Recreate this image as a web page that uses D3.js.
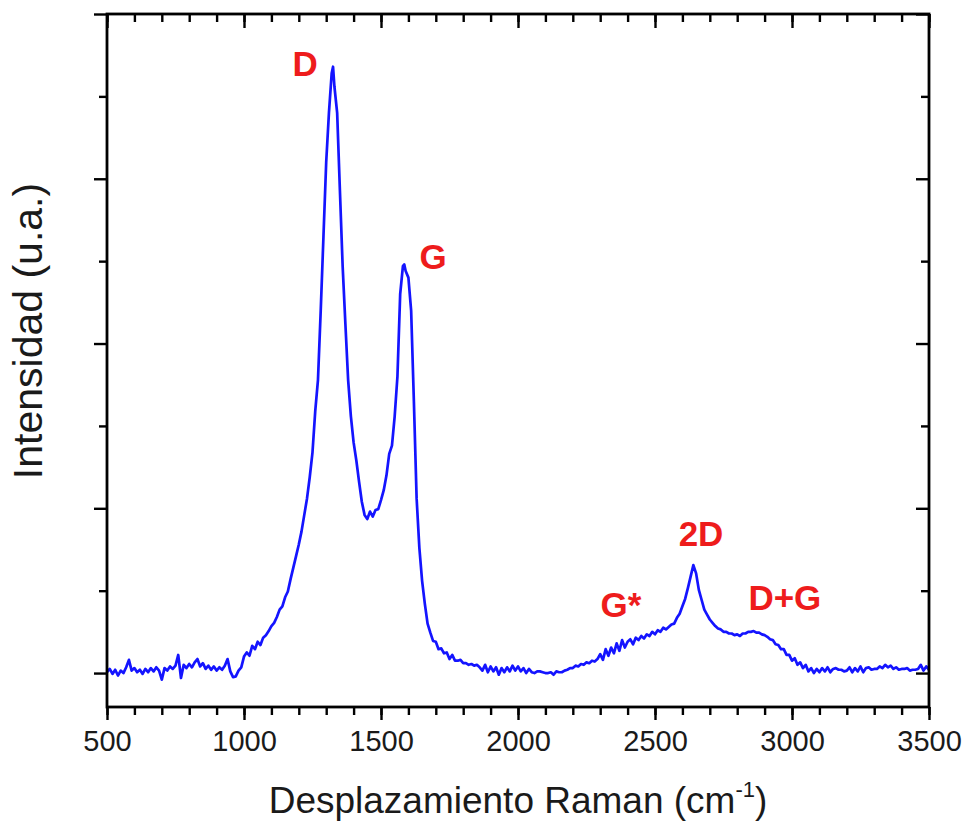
<!DOCTYPE html>
<html>
<head>
<meta charset="utf-8">
<script src="https://cdn.jsdelivr.net/npm/d3@7"></script>
<style>
  body { margin: 0; background: #fff; }
  text { font-family: "Liberation Sans", Arial, sans-serif; }
</style>
</head>
<body>
<svg width="967" height="825"></svg>
<script>
// Raman shift (cm-1) and intensity (a.u.)
const ramanShift = [
  500,510,520,530,540,550,560,570,580,590,600,610,620,630,640,650,660,670,680,690,
  700,710,720,730,740,750,760,770,780,790,800,810,820,830,840,850,860,870,880,890,
  900,910,920,930,940,950,960,970,980,990,1000,1010,1020,1030,1040,1050,1060,1070,1080,1090,
  1100,1110,1120,1130,1140,1150,1160,1170,1180,1190,1200,1210,1220,1230,1240,1250,1260,1270,1280,1290,
  1300,1310,1320,1325,1330,1340,1350,1360,1370,1380,1390,1400,1410,1420,1430,1440,1450,1460,1470,1480,
  1490,1500,1510,1520,1530,1540,1550,1560,1570,1580,1585,1590,1600,1610,1620,1630,1640,1650,1660,1670,
  1680,1690,1700,1710,1720,1730,1740,1750,1760,1770,1780,1790,1800,1810,1820,1830,1840,1850,1860,1870,
  1880,1890,1900,1910,1920,1930,1940,1950,1960,1970,1980,1990,2000,2010,2020,2030,2040,2050,2060,2070,
  2080,2090,2100,2110,2120,2130,2140,2150,2160,2170,2180,2190,2200,2210,2220,2230,2240,2250,2260,2270,
  2280,2290,2300,2310,2320,2330,2340,2350,2360,2370,2380,2390,2400,2410,2420,2430,2440,2450,2460,2470,
  2480,2490,2500,2510,2520,2530,2540,2550,2560,2570,2580,2590,2600,2610,2620,2630,2640,2650,2660,2670,
  2680,2690,2700,2710,2720,2730,2740,2750,2760,2770,2780,2790,2800,2810,2820,2830,2840,2850,2860,2870,
  2880,2890,2900,2910,2920,2930,2940,2950,2960,2970,2980,2990,3000,3010,3020,3030,3040,3050,3060,3070,
  3080,3090,3100,3110,3120,3130,3140,3150,3160,3170,3180,3190,3200,3210,3220,3230,3240,3250,3260,3270,
  3280,3290,3300,3310,3320,3330,3340,3350,3360,3370,3380,3390,3400,3410,3420,3430,3440,3450,3460,3470,
  3480,3490,3500
];
const intensity = [
  5,25,-5,20,-15,15,0,35,80,15,30,5,20,-5,25,5,30,10,35,15,
  -40,30,15,40,25,45,110,-30,50,30,55,35,65,85,40,60,25,45,20,40,
  15,35,20,45,85,10,-25,-20,15,35,100,125,105,165,145,190,170,215,230,255,
  285,305,340,385,405,460,495,570,640,710,780,860,960,1060,1190,1340,1590,1780,2200,2650,
  3100,3400,3640,3680,3560,3400,2930,2470,2120,1780,1560,1400,1290,1160,1040,960,935,980,950,990,
  995,1050,1110,1200,1330,1380,1560,1800,2300,2470,2480,2440,2400,2200,1650,1060,760,560,420,300,
  245,195,190,145,150,120,125,85,110,75,75,80,60,60,50,55,45,50,35,15,
  50,5,40,10,35,-10,30,5,35,10,45,15,40,10,30,0,25,5,0,10,
  10,5,0,0,5,-10,10,5,5,15,20,30,30,45,40,55,50,65,60,75,
  70,85,115,80,145,105,155,120,180,135,200,155,190,205,175,215,200,225,210,235,
  225,250,235,260,250,275,265,280,295,300,335,360,405,450,515,585,655,605,505,445,
  385,355,325,305,285,270,265,250,250,240,240,230,235,225,240,240,250,250,255,245,
  245,235,230,220,205,200,175,170,145,145,110,110,75,90,50,65,30,50,10,30,
  0,25,5,30,10,35,5,25,30,20,20,10,15,35,5,30,10,40,5,30,
  35,20,25,25,40,30,50,35,45,25,35,20,25,25,30,15,20,20,25,50,
  15,40,20
];
const xTicks = [500, 1000, 1500, 2000, 2500, 3000, 3500];
const xMinor = d3.range(500, 3501, 100);
const yTicks = [0, 1000, 2000, 3000, 4000];
const yMinor = [500, 1500, 2500, 3500];
const peakNames = ['D', 'G', 'G*', '2D', 'D+G'];
const peakShift = [1223, 1690, 2376, 2668, 2974];
const peakLabelLevel = [3624, 2454, 339, 770, 382];

const spectrum = ramanShift.map((s, i) => ({ s: s, v: intensity[i] }));

const svg = d3.select('svg');
const mLeft = 107, mRight = 929, mTop = 14, mBottom = 707;

const x = d3.scaleLinear().domain([500, 3500]).range([mLeft, mRight]);
const y = d3.scaleLinear().domain([-206, 4000]).range([mBottom, mTop]);

// minor ticks first, majors on top
const axisStyle = g => {
  g.select('.domain').remove();
  g.selectAll('line').attr('stroke', '#000').attr('stroke-width', 2.4);
  g.selectAll('text').attr('fill', '#1a1a1a').attr('font-size', 29);
};

svg.append('g')
  .attr('transform', `translate(0,${mBottom})`)
  .call(d3.axisBottom(x).tickValues(xMinor).tickSize(8).tickFormat(''))
  .call(axisStyle);
svg.append('g')
  .attr('transform', `translate(0,${mBottom})`)
  .call(d3.axisBottom(x).tickValues(xTicks).tickSize(13).tickPadding(10).tickFormat(d3.format('d')))
  .call(axisStyle);
svg.append('g')
  .attr('transform', `translate(0,${mTop})`)
  .call(d3.axisBottom(x).tickValues(xMinor).tickSize(8).tickFormat(''))
  .call(axisStyle);
svg.append('g')
  .attr('transform', `translate(0,${mTop})`)
  .call(d3.axisBottom(x).tickValues(xTicks).tickSize(14).tickFormat(''))
  .call(axisStyle);

svg.append('g')
  .attr('transform', `translate(${mLeft},0)`)
  .call(d3.axisLeft(y).tickValues(yMinor).tickSize(8).tickFormat(''))
  .call(axisStyle);
svg.append('g')
  .attr('transform', `translate(${mLeft},0)`)
  .call(d3.axisLeft(y).tickValues(yTicks).tickSize(13).tickFormat(''))
  .call(axisStyle);
svg.append('g')
  .attr('transform', `translate(${mRight},0)`)
  .call(d3.axisLeft(y).tickValues(yMinor).tickSize(8).tickFormat(''))
  .call(axisStyle);
svg.append('g')
  .attr('transform', `translate(${mRight},0)`)
  .call(d3.axisLeft(y).tickValues(yTicks).tickSize(13).tickFormat(''))
  .call(axisStyle);

svg.append('defs').append('clipPath').attr('id', 'plot')
  .append('rect').attr('x', mLeft).attr('y', mTop)
  .attr('width', mRight - mLeft).attr('height', mBottom - mTop);

svg.append('path')
  .datum(spectrum)
  .attr('clip-path', 'url(#plot)')
  .attr('fill', 'none')
  .attr('stroke', '#1414ff')
  .attr('stroke-width', 2.7)
  .attr('stroke-linejoin', 'round')
  .attr('d', d3.line().x(d => x(d.s)).y(d => y(d.v)));

// frame
svg.append('rect')
  .attr('x', mLeft).attr('y', mTop)
  .attr('width', mRight - mLeft).attr('height', mBottom - mTop)
  .attr('fill', 'none').attr('stroke', '#000').attr('stroke-width', 2.8);

svg.append('g')
  .selectAll('text')
  .data(peakNames)
  .enter()
  .append('text')
  .attr('x', (d, i) => x(peakShift[i]))
  .attr('y', (d, i) => y(peakLabelLevel[i]))
  .attr('text-anchor', 'middle')
  .attr('font-size', 35)
  .attr('font-weight', 'bold')
  .attr('fill', '#ee1c1c')
  .text(d => d);

const xt = svg.append('text')
  .attr('x', 518)
  .attr('y', 813)
  .attr('text-anchor', 'middle')
  .attr('font-size', 37)
  .attr('fill', '#1a1a1a');
xt.append('tspan').text('Desplazamiento Raman (cm');
xt.append('tspan').attr('font-size', 22).attr('dy', -16).text('-1');
xt.append('tspan').attr('dy', 16).text(')');

svg.append('text')
  .attr('transform', 'translate(42,331) rotate(-90)')
  .attr('text-anchor', 'middle')
  .attr('font-size', 41)
  .attr('fill', '#1a1a1a')
  .text('Intensidad (u.a.)');
</script>
</body>
</html>
